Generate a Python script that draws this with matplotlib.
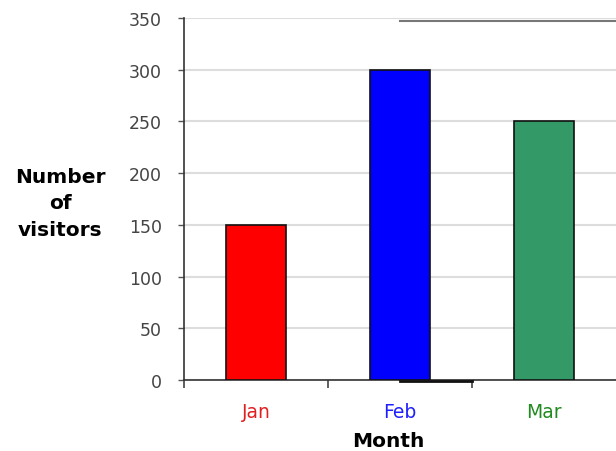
import numpy as np
import matplotlib.pyplot as plt

months = ['Jan', 'Feb', 'Mar']
visitors = [150, 300, 250]
bar_colors = ['#ff0000', '#0000ff', '#339966']
label_colors = ['#e02020', '#2020ff', '#208a20']
y_ticks = [0, 50, 100, 150, 200, 250, 300, 350]

fig = plt.figure(figsize=(6.16, 4.52), dpi=100)
ax = fig.add_axes([184 / 616, 71 / 452, 432 / 616, 362 / 452])

x = np.arange(len(months)) + 0.5
ax.bar(x, visitors, width=0.41, color=bar_colors, edgecolor='#111111',
       linewidth=1.2, zorder=3)

ax.set_xlim(0, 3)
ax.set_ylim(0, 350)
ax.set_yticks(y_ticks)
ax.set_yticklabels([str(v) for v in y_ticks], color='#444444', fontsize=12.5)
ax.yaxis.grid(True, color='#dddddd', linewidth=1.5, zorder=0)
ax.tick_params(axis='y', length=4, width=1, color='#555555', pad=12)

# category boundary ticks, labels at centres
ax.set_xticks([0, 1, 2])
ax.set_xticklabels([])
ax.tick_params(axis='x', length=6, width=1.2, color='#444444')
ax.set_xticks(x, minor=True)
ax.set_xticklabels(months, minor=True, fontsize=13.5)
ax.tick_params(axis='x', which='minor', length=0, pad=16)
for lab, c in zip(ax.get_xticklabels(minor=True), label_colors):
    lab.set_color(c)

ax.axhline(347, xmin=0.5, xmax=1, color='#777777', linewidth=1.5, zorder=2)
ax.plot([1.5, 2.0], [-1.2, -1.2], color='#111111', linewidth=2,
        clip_on=False, zorder=4)

for s in ['top', 'right']:
    ax.spines[s].set_visible(False)
ax.spines['left'].set_color('#333333')
ax.spines['bottom'].set_color('#333333')
ax.spines['left'].set_linewidth(1.2)
ax.spines['bottom'].set_linewidth(1.2)

ax.set_xlabel('Month', fontsize=14.5, fontweight='bold')
ax.set_ylabel('Number\nof\nvisitors', fontsize=14.5, fontweight='bold',
              rotation=0, ha='center', va='center', linespacing=1.5)
ax.yaxis.set_label_coords(-0.287, 0.49)
ax.xaxis.set_label_coords(0.472, -0.142)

fig.savefig('out.png', dpi=100)
